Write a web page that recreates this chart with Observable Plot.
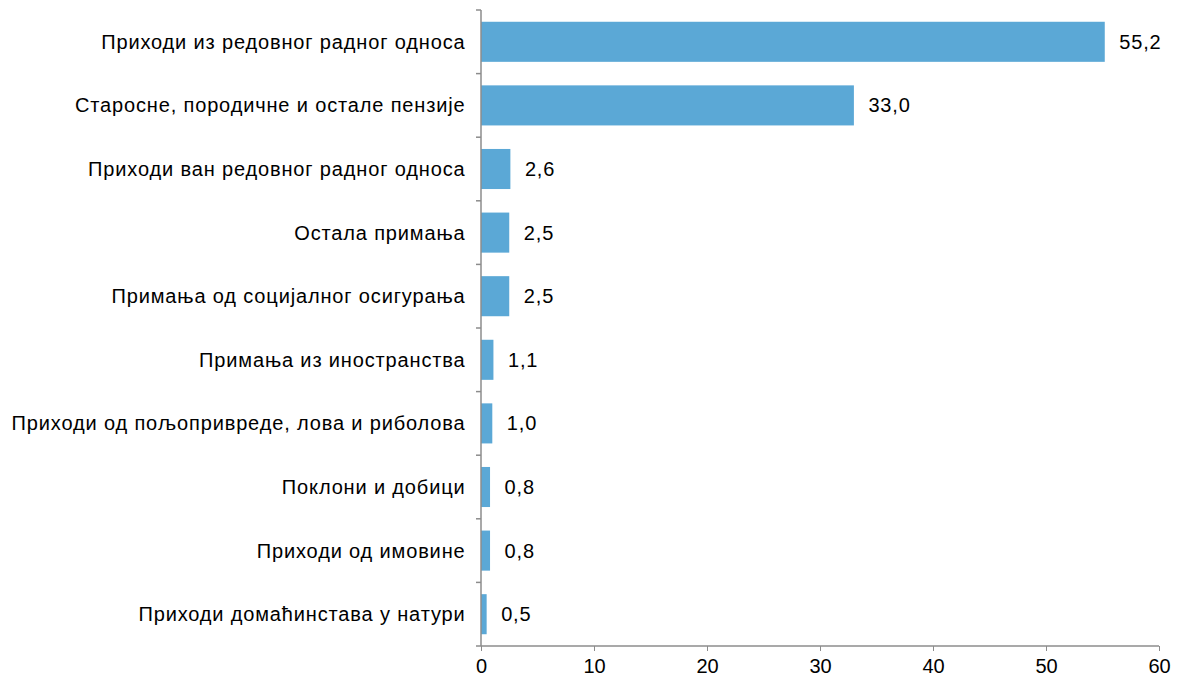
<!DOCTYPE html>
<html><head><meta charset="utf-8">
<script src="https://cdn.jsdelivr.net/npm/d3@7"></script>
<script src="https://cdn.jsdelivr.net/npm/@observablehq/plot@0.6"></script>
<style>
body{margin:0;background:#fff;}
#chart{position:absolute;left:0;top:0;}
g[aria-label="y-axis tick label"] text, g[aria-label="text"] text { letter-spacing: 0.85px; }
</style></head>
<body><div id="chart"></div>
<script>
const categories = [
  "Приходи из редовног радног односа",
  "Старосне, породичне и остале пензије",
  "Приходи ван редовног радног односа",
  "Остала примања",
  "Примања од социјалног осигурања",
  "Примања из иностранства",
  "Приходи од пољопривреде, лова и риболова",
  "Поклони и добици",
  "Приходи од имовине",
  "Приходи домаћинстава у натури"
];
const values = [55.2, 33.0, 2.6, 2.5, 2.5, 1.1, 1.0, 0.8, 0.8, 0.5];
const xTicks = [0, 10, 20, 30, 40, 50, 60];

const data = categories.map((c, i) => ({category: c, value: values[i]}));
const fmt = v => v.toFixed(1).replace(".", ",");
const axisColor = "#8c8c8c";

const chart = Plot.plot({
  width: 1181,
  height: 684,
  marginLeft: 481,
  marginRight: 22,
  marginTop: 10,
  marginBottom: 38,
  style: {fontFamily: "'Liberation Sans', Arial, sans-serif", fontSize: "20px", color: "#000", background: "#fff"},
  x: {domain: [0, 60], ticks: xTicks, label: null},
  y: {domain: categories, paddingInner: 0.37, paddingOuter: 0.185, round: false, label: null},
  marks: [
    Plot.barX(data, {x: "value", y: "category", fill: "#5BA8D6"}),
    Plot.text(data, {x: "value", y: "category", text: d => fmt(d.value), textAnchor: "start", dx: 14, fontSize: 20, fill: "#000"}),
    Plot.axisX({ticks: xTicks, tickSize: 5, tickPadding: 7, stroke: axisColor, fill: "#000", fontSize: 20, tickFormat: d => String(d)}),
    Plot.axisY({tickSize: 0, tickPadding: 16, fill: "#000", fontSize: 20}),
  ]
});
document.getElementById("chart").append(chart);

// axis lines and band-boundary ticks using the chart's own scales
const xs = chart.scale("x"), ys = chart.scale("y");
const svg = d3.select(chart);
const x0 = xs.apply(0), x1 = xs.apply(60);
const step = ys.step, bw = ys.bandwidth;
const bounds = [];
categories.forEach((c, i) => {
  const top = ys.apply(c) - (step - bw) / 2;
  bounds.push(top);
  if (i === categories.length - 1) bounds.push(top + step);
});
const yBottom = bounds[bounds.length - 1];
const g = svg.append("g").attr("stroke", axisColor).attr("stroke-width", 1.5).attr("fill", "none");
g.append("line").attr("x1", x0).attr("x2", x0).attr("y1", bounds[0]).attr("y2", yBottom);
g.append("line").attr("x1", x0).attr("x2", x1).attr("y1", yBottom).attr("y2", yBottom);
bounds.forEach(b => g.append("line").attr("x1", x0 - 5).attr("x2", x0).attr("y1", b).attr("y2", b));
</script>
</body></html>
